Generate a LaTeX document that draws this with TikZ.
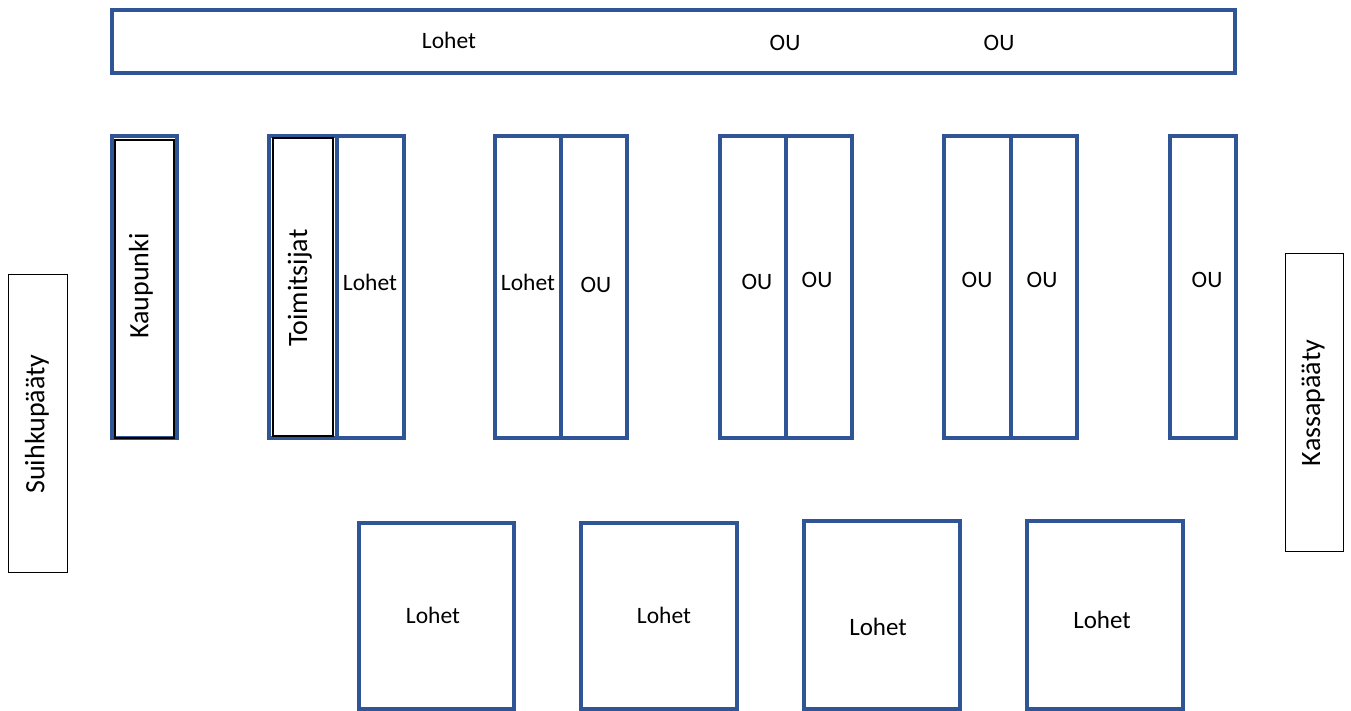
\documentclass[tikz,border=0pt]{standalone}
\usepackage{fontspec}
\setmainfont{Carlito}
\definecolor{shelf}{HTML}{2F5597}
\begin{document}
\begin{tikzpicture}[x=1pt,y=-1pt,
  bluebox/.style={draw=shelf, line width=4pt, inner sep=0pt, outer sep=0pt},
  blackbox/.style={draw=black, line width=1.3pt, inner sep=0pt, outer sep=0pt},
  thinbox/.style={draw=black, line width=1pt, inner sep=0pt, outer sep=0pt},
  lbl/.style={font=\fontsize{23.5}{26}\selectfont, inner sep=0pt},
  rlbl/.style={font=\fontsize{28}{31}\selectfont, inner sep=0pt, rotate=90}]
\useasboundingbox (0,0) rectangle (1351,711);
% top long shelf
\node[bluebox, minimum width=1123pt, minimum height=63pt] (top) at (673.5,41.5) {};
\node[lbl] (t1) at (449,40) {Lohet};
\node[lbl] (t2) at (785,43) {OU};
\node[lbl] (t3) at (999,43) {OU};
% Kaupunki
\node[bluebox, minimum width=65pt, minimum height=302pt] (kb) at (144.5,287) {};
\node[blackbox, minimum width=59pt, minimum height=298pt] (ki) at (144.5,289) {};
\node[rlbl] (kt) at (141,286) {Kaupunki};
% Toimitsijat + Lohet
\node[bluebox, minimum width=68pt, minimum height=302pt] (p1a) at (303,287) {};
\node[bluebox, minimum width=67pt, minimum height=302pt] (p1b) at (370.5,287) {};
\node[blackbox, minimum width=60pt, minimum height=298pt] (ti) at (303,287) {};
\node[rlbl] (tt) at (300,288) {Toimitsijat};
\node[lbl] (l1) at (370,282) {Lohet};
% pair 2
\node[bluebox, minimum width=66pt, minimum height=302pt] (p2a) at (528,287) {};
\node[bluebox, minimum width=66pt, minimum height=302pt] (p2b) at (594,287) {};
\node[lbl] (l2) at (528,282) {Lohet};
\node[lbl] (o2) at (596,285) {OU};
% pair 3
\node[bluebox, minimum width=66pt, minimum height=302pt] (p3a) at (753,287) {};
\node[bluebox, minimum width=66pt, minimum height=302pt] (p3b) at (819,287) {};
\node[lbl] (o3a) at (757,282) {OU};
\node[lbl] (o3b) at (817,280) {OU};
% pair 4
\node[bluebox, minimum width=67pt, minimum height=302pt] (p4a) at (977.5,287) {};
\node[bluebox, minimum width=66pt, minimum height=302pt] (p4b) at (1044,287) {};
\node[lbl] (o4a) at (977,280) {OU};
\node[lbl] (o4b) at (1042,280) {OU};
% single
\node[bluebox, minimum width=66pt, minimum height=302pt] (p5) at (1203,287) {};
\node[lbl] (o5) at (1207,280) {OU};
% ends
\node[thinbox, minimum width=59pt, minimum height=298pt] (suihku) at (37.5,423) {};
\node[rlbl] (st) at (37,424) {Suihkupääty};
\node[thinbox, minimum width=58pt, minimum height=297pt] (kassa) at (1314,402.5) {};
\node[rlbl] (kt2) at (1313,403) {Kassapääty};
% bottom tables
\node[bluebox, minimum width=155pt, minimum height=186pt] (b1) at (436.5,616) {};
\node[bluebox, minimum width=156pt, minimum height=186pt] (b2) at (659,616) {};
\node[bluebox, minimum width=156pt, minimum height=188pt] (b3) at (882,615) {};
\node[bluebox, minimum width=156pt, minimum height=188pt] (b4) at (1105,615) {};
\node[lbl] (bl1) at (433,615) {Lohet};
\node[lbl] (bl2) at (664,615) {Lohet};
\node[lbl, font=\fontsize{25}{28}\selectfont] (bl3) at (878,627) {Lohet};
\node[lbl, font=\fontsize{25}{28}\selectfont] (bl4) at (1102,620) {Lohet};
\end{tikzpicture}
\end{document}
